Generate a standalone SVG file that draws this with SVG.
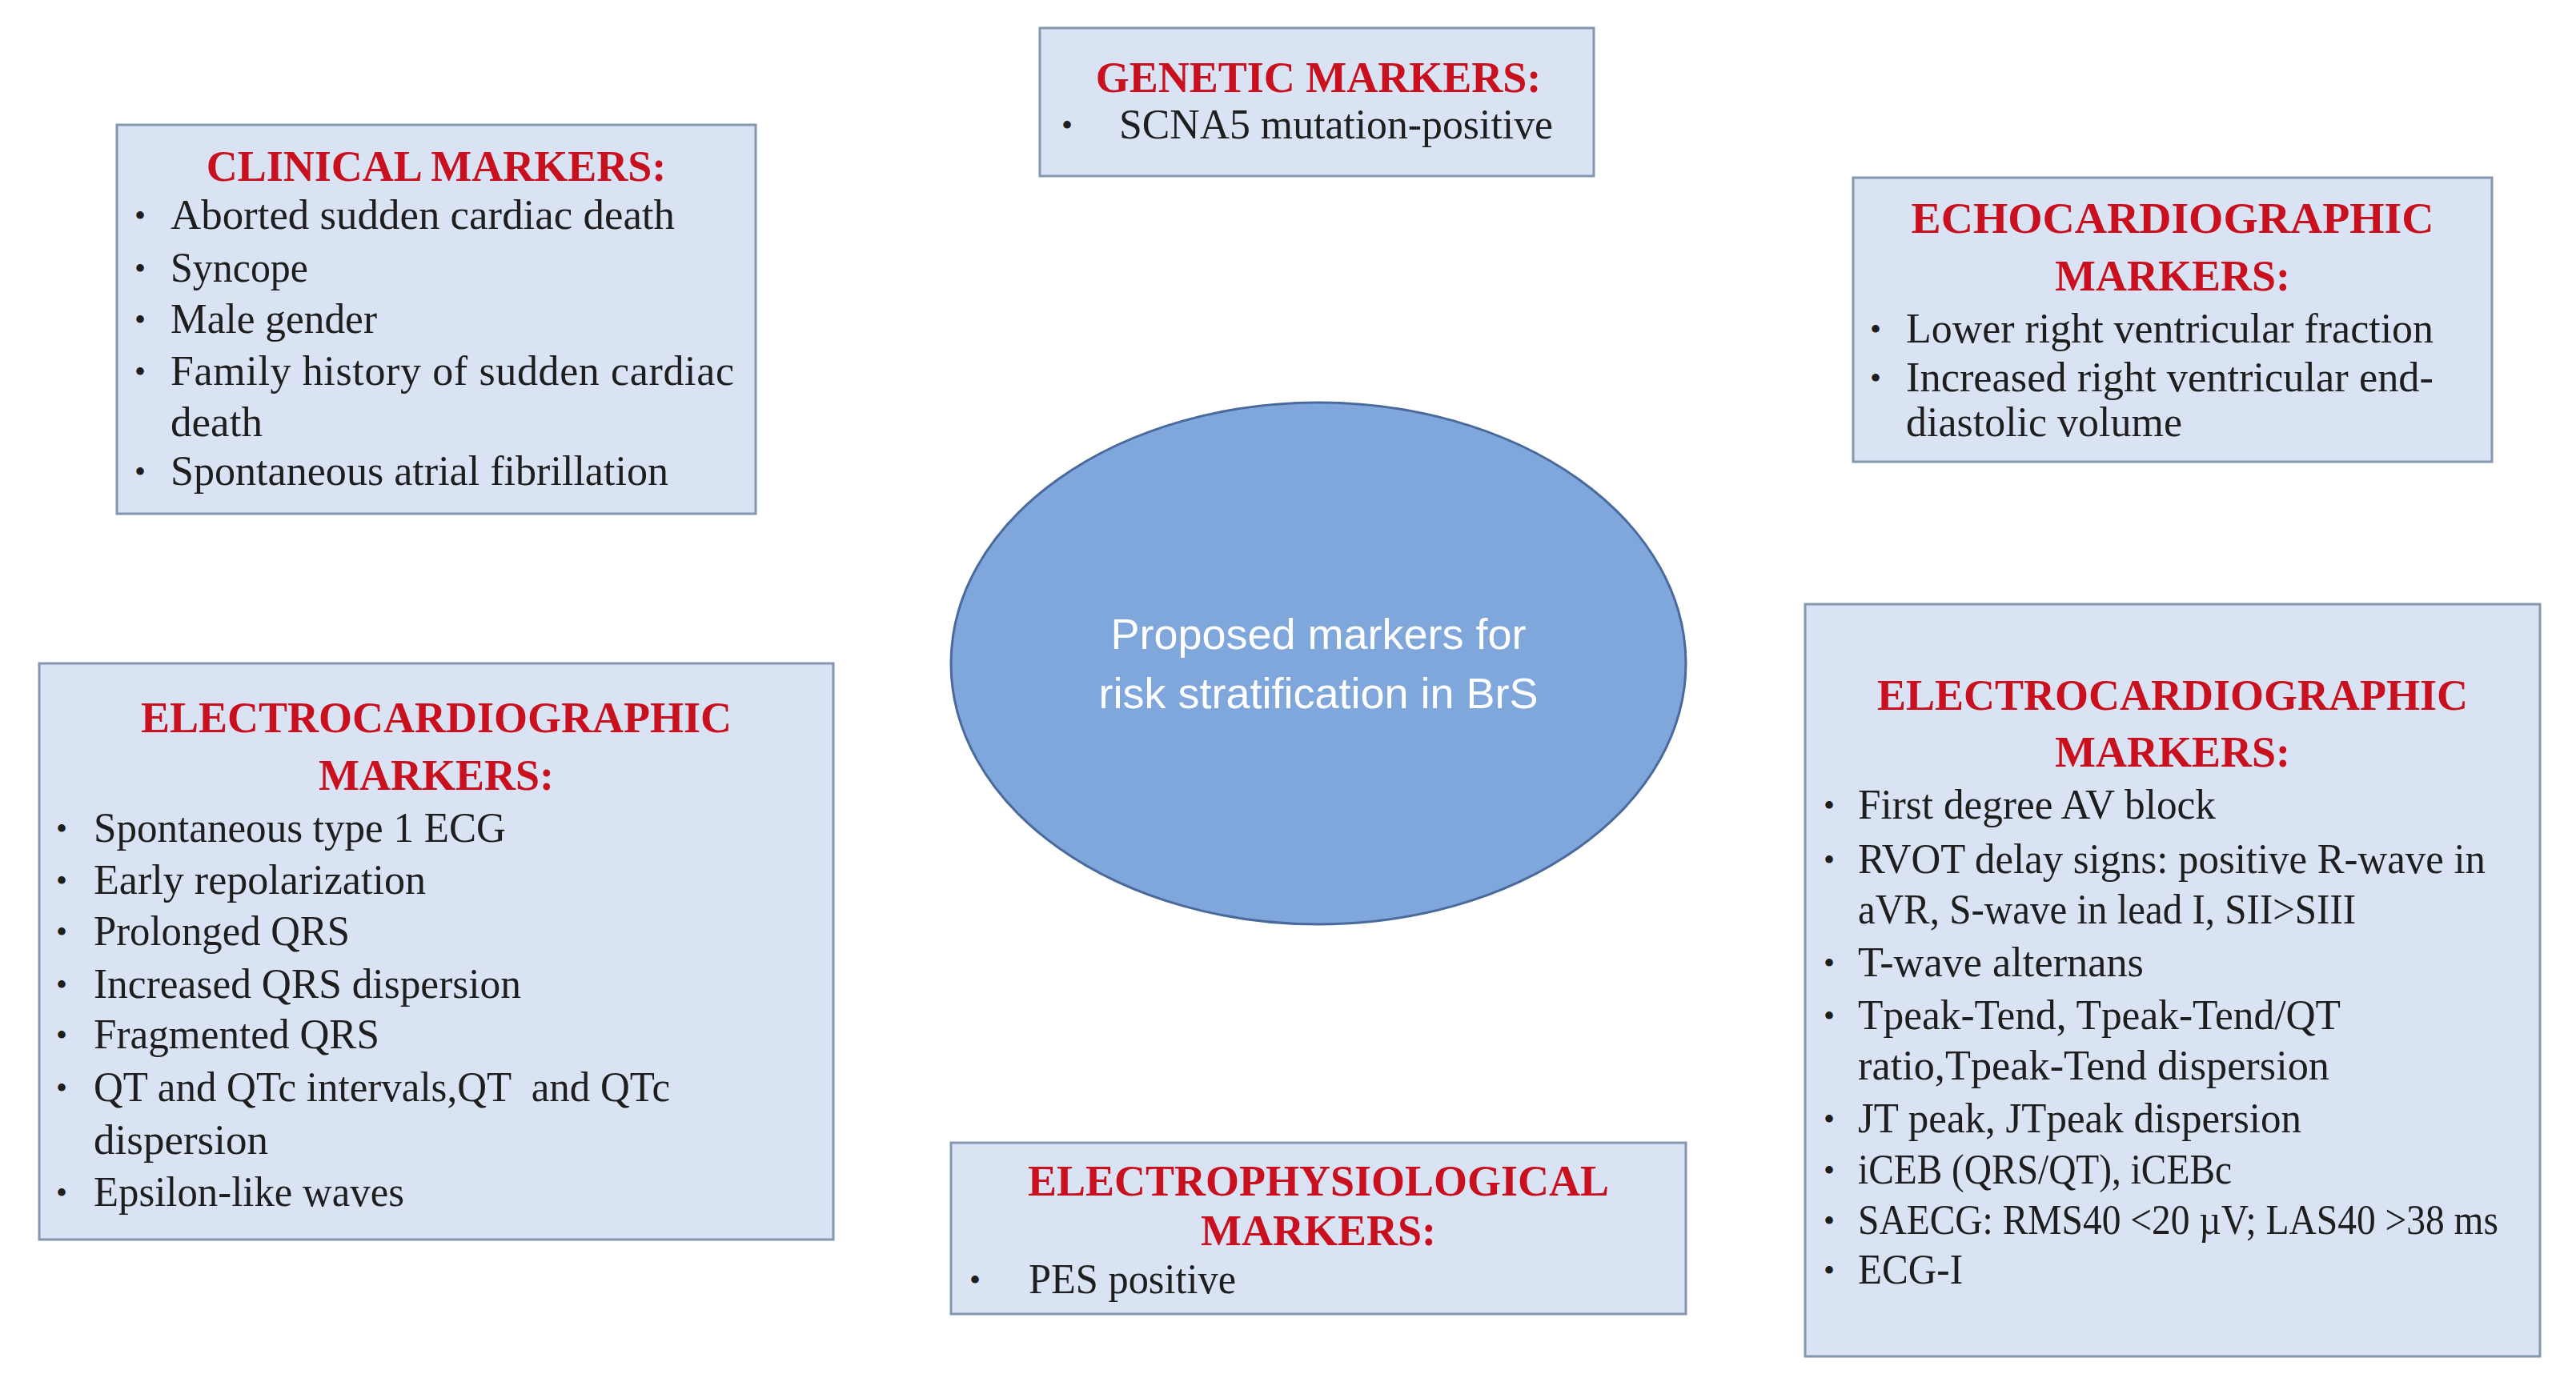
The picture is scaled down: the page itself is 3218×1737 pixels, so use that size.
<svg xmlns="http://www.w3.org/2000/svg" width="3218" height="1737" viewBox="0 0 3218 1737">
<style>
.box{fill:#dae3f3;stroke:#8496b0;stroke-width:3}
.ttl{font-family:"Liberation Serif",serif;font-weight:bold;font-size:54px;fill:#c8101e;text-anchor:middle}
.txt{font-family:"Liberation Serif",serif;font-size:52px;fill:#1e1e1e}
.bul{font-family:"Liberation Serif",serif;font-size:40px;fill:#1e1e1e}
.ctr{font-family:"Liberation Sans",Arial,sans-serif;font-size:54px;fill:#ffffff;text-anchor:middle}
</style>
<rect width="3218" height="1737" fill="#ffffff"/>
<g id="connectors"></g>
<g id="center">
<ellipse cx="1647" cy="829" rx="459" ry="326" fill="#7fa7dc" stroke="#4a6a9c" stroke-width="3"/>
<text class="ctr" x="1647" y="811">Proposed markers for</text>
<text class="ctr" x="1647" y="885">risk stratification in BrS</text>
</g>
<g id="clinical">
<rect class="box" x="146" y="156" width="798" height="486"/>
<text class="ttl" x="545" y="226">CLINICAL MARKERS:</text>
<text class="bul" x="168" y="283">•</text><text class="txt" x="213" y="286" textLength="630" lengthAdjust="spacingAndGlyphs">Aborted sudden cardiac death</text>
<text class="bul" x="168" y="349">•</text><text class="txt" x="213" y="352" textLength="172" lengthAdjust="spacingAndGlyphs">Syncope</text>
<text class="bul" x="168" y="413">•</text><text class="txt" x="213" y="416" textLength="258" lengthAdjust="spacingAndGlyphs">Male gender</text>
<text class="bul" x="168" y="478">•</text><text class="txt" x="213" y="481" textLength="704" lengthAdjust="spacing">Family history of sudden cardiac</text>
<text class="txt" x="213" y="545" textLength="115" lengthAdjust="spacingAndGlyphs">death</text>
<text class="bul" x="168" y="603">•</text><text class="txt" x="213" y="606" textLength="622" lengthAdjust="spacingAndGlyphs">Spontaneous atrial fibrillation</text>
</g>
<g id="genetic">
<rect class="box" x="1299" y="35" width="692" height="185"/>
<text class="ttl" x="1647" y="115">GENETIC MARKERS:</text>
<text class="bul" x="1326" y="170">•</text><text class="txt" x="1398" y="173" textLength="542" lengthAdjust="spacingAndGlyphs">SCNA5 mutation-positive</text>
</g>
<g id="echo">
<rect class="box" x="2315" y="222" width="798" height="355"/>
<text class="ttl" x="2714" y="291" textLength="653" lengthAdjust="spacingAndGlyphs">ECHOCARDIOGRAPHIC</text>
<text class="ttl" x="2714" y="363">MARKERS:</text>
<text class="bul" x="2336" y="425">•</text><text class="txt" x="2381" y="428" textLength="659" lengthAdjust="spacingAndGlyphs">Lower right ventricular fraction</text>
<text class="bul" x="2336" y="486">•</text><text class="txt" x="2381" y="489" textLength="659" lengthAdjust="spacingAndGlyphs">Increased right ventricular end-</text>
<text class="txt" x="2381" y="545" textLength="345" lengthAdjust="spacingAndGlyphs">diastolic volume</text>
</g>
<g id="ecg-left">
<rect class="box" x="49" y="829" width="992" height="720"/>
<text class="ttl" x="545" y="915">ELECTROCARDIOGRAPHIC</text>
<text class="ttl" x="545" y="987">MARKERS:</text>
<text class="bul" x="70" y="1049">•</text><text class="txt" x="117" y="1052" textLength="515" lengthAdjust="spacingAndGlyphs">Spontaneous type 1 ECG</text>
<text class="bul" x="70" y="1114">•</text><text class="txt" x="117" y="1117" textLength="415" lengthAdjust="spacingAndGlyphs">Early repolarization</text>
<text class="bul" x="70" y="1178">•</text><text class="txt" x="117" y="1181" textLength="320" lengthAdjust="spacingAndGlyphs">Prolonged QRS</text>
<text class="bul" x="70" y="1244">•</text><text class="txt" x="117" y="1247" textLength="534" lengthAdjust="spacingAndGlyphs">Increased QRS dispersion</text>
<text class="bul" x="70" y="1307">•</text><text class="txt" x="117" y="1310" textLength="357" lengthAdjust="spacingAndGlyphs">Fragmented QRS</text>
<text class="bul" x="70" y="1373">•</text><text class="txt" x="117" y="1376" xml:space="preserve" textLength="720" lengthAdjust="spacingAndGlyphs">QT and QTc intervals,QT  and QTc</text>
<text class="txt" x="117" y="1442" textLength="218" lengthAdjust="spacingAndGlyphs">dispersion</text>
<text class="bul" x="70" y="1504">•</text><text class="txt" x="117" y="1507" textLength="388" lengthAdjust="spacingAndGlyphs">Epsilon-like waves</text>
</g>
<g id="ecg-right">
<rect class="box" x="2255" y="755" width="918" height="940"/>
<text class="ttl" x="2714" y="887">ELECTROCARDIOGRAPHIC</text>
<text class="ttl" x="2714" y="958">MARKERS:</text>
<text class="bul" x="2278" y="1020">•</text><text class="txt" x="2321" y="1023" textLength="447" lengthAdjust="spacingAndGlyphs">First degree AV block</text>
<text class="bul" x="2278" y="1088">•</text><text class="txt" x="2321" y="1091" textLength="784" lengthAdjust="spacingAndGlyphs">RVOT delay signs: positive R-wave in</text>
<text class="txt" x="2321" y="1154" textLength="622" lengthAdjust="spacingAndGlyphs">aVR, S-wave in lead I, SII&gt;SIII</text>
<text class="bul" x="2278" y="1217">•</text><text class="txt" x="2321" y="1220" textLength="357" lengthAdjust="spacingAndGlyphs">T-wave alternans</text>
<text class="bul" x="2278" y="1283">•</text><text class="txt" x="2321" y="1286" textLength="603" lengthAdjust="spacingAndGlyphs">Tpeak-Tend, Tpeak-Tend/QT</text>
<text class="txt" x="2321" y="1349" textLength="589" lengthAdjust="spacingAndGlyphs">ratio,Tpeak-Tend dispersion</text>
<text class="bul" x="2278" y="1412">•</text><text class="txt" x="2321" y="1415" textLength="554" lengthAdjust="spacingAndGlyphs">JT peak, JTpeak dispersion</text>
<text class="bul" x="2278" y="1476">•</text><text class="txt" x="2321" y="1479" textLength="467" lengthAdjust="spacingAndGlyphs">iCEB (QRS/QT), iCEBc</text>
<text class="bul" x="2278" y="1539">•</text><text class="txt" x="2321" y="1542" textLength="800" lengthAdjust="spacingAndGlyphs">SAECG: RMS40 &lt;20 µV; LAS40 &gt;38 ms</text>
<text class="bul" x="2278" y="1601">•</text><text class="txt" x="2321" y="1604" textLength="131" lengthAdjust="spacingAndGlyphs">ECG-I</text>
</g>
<g id="electrophysiological">
<rect class="box" x="1188" y="1428" width="918" height="214"/>
<text class="ttl" x="1647" y="1494">ELECTROPHYSIOLOGICAL</text>
<text class="ttl" x="1647" y="1556">MARKERS:</text>
<text class="bul" x="1211" y="1613">•</text><text class="txt" x="1285" y="1616" textLength="259" lengthAdjust="spacingAndGlyphs">PES positive</text>
</g>
</svg>
